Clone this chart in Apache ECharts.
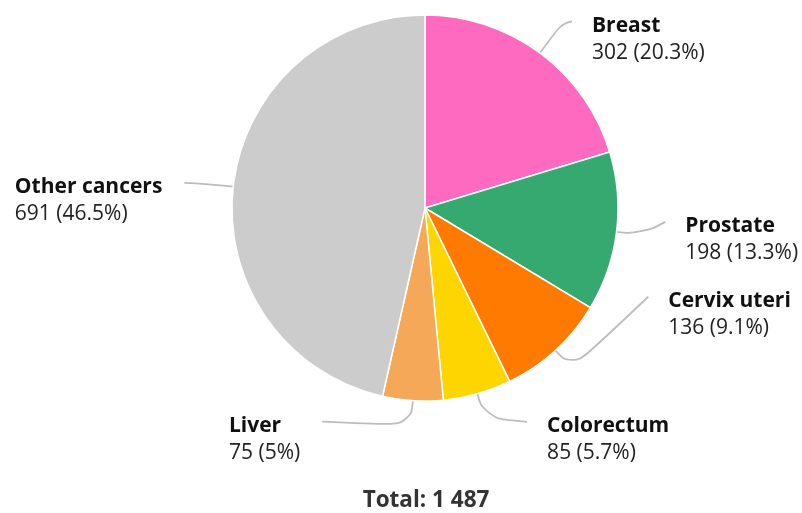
<!DOCTYPE html>
<html>
<head>
<meta charset="utf-8">
<script src="https://cdn.jsdelivr.net/npm/echarts@6/dist/echarts.min.js"></script>
<style>
html, body { margin: 0; padding: 0; background: #fff; }
#chart { width: 802px; height: 513px; }
</style>
</head>
<body>
<div id="chart"></div>
<script>
var categories = ['Breast', 'Prostate', 'Cervix uteri', 'Colorectum', 'Liver', 'Other cancers'];
var cases = [302, 198, 136, 85, 75, 691];
var shares = ['20.3%', '13.3%', '9.1%', '5.7%', '5%', '46.5%'];
var colors = ['#ff6ac1', '#35a96f', '#ff7a00', '#ffd500', '#f4a858', '#cccccc'];
var totalLabel = 'Total: 1 487';

// label placement: radial leg length, then offset of the line end from the bend
var legLength = [37, 25, 25, 25, 25, 25];
var labelNudge = [[10, -2], [24, -13], [76, -72], [43, 4], [-89, -4], [-24, -1]];

var cx = 425, cy = 208, radius = 193;
var sum = 0;
for (var k = 0; k < cases.length; k++) sum += cases[k];

function midDir(idx) {
	var before = 0;
	for (var j = 0; j < idx; j++) before += cases[j];
	var a = (before + cases[idx] / 2) / sum * Math.PI * 2;
	return [Math.sin(a), -Math.cos(a)];
}

var pieData = [];
for (var i = 0; i < categories.length; i++) {
	pieData.push({
		name : categories[i],
		value : cases[i],
		share : shares[i],
		itemStyle : { color : colors[i] }
	});
}

var chart = echarts.init(document.getElementById('chart'));
chart.setOption({
	animation : false,
	title : {
		text : totalLabel,
		left : 426,
		top : 489,
		padding : 0,
		textAlign : 'center',
		textStyle : {
			fontFamily : 'Open Sans',
			fontSize : 22.5,
			fontWeight : 'bold',
			color : '#333'
		}
	},
	series : [ {
		type : 'pie',
		center : [ cx, cy ],
		radius : radius,
		startAngle : 90,
		clockwise : true,
		data : pieData,
		itemStyle : {
			borderColor : '#fff',
			borderWidth : 1.5
		},
		label : {
			formatter : function(p) {
				return '{n|' + p.name + '}\n{v|' + p.value + ' (' + p.data.share + ')}';
			},
			rich : {
				n : {
					fontFamily : 'Open Sans',
					fontSize : 21,
					fontWeight : 'bold',
					color : '#111',
					lineHeight : 27
				},
				v : {
					fontFamily : 'Open Sans',
					fontSize : 21,
					color : '#222',
					lineHeight : 27
				}
			}
		},
		labelLine : {
			smooth : 0.5,
			lineStyle : { color : '#bdbdbd', width : 1.8 }
		},
		labelLayout : function(params) {
			var idx = params.dataIndex;
			var d = midDir(idx);
			var p0 = [cx + radius * d[0], cy + radius * d[1]];
			var r1 = radius + legLength[idx];
			var p1 = [cx + r1 * d[0], cy + r1 * d[1]];
			var end = [p1[0] + labelNudge[idx][0], p1[1] + labelNudge[idx][1]];
			var right = labelNudge[idx][0] > 0;
			var w = params.labelRect.width;
			return {
				x : right ? end[0] + 20 : end[0] - 22 - w,
				y : end[1] - 9,
				align : 'left',
				verticalAlign : 'top',
				labelLinePoints : [ p0, p1, end ]
			};
		}
	} ]
});
</script>
</body>
</html>
